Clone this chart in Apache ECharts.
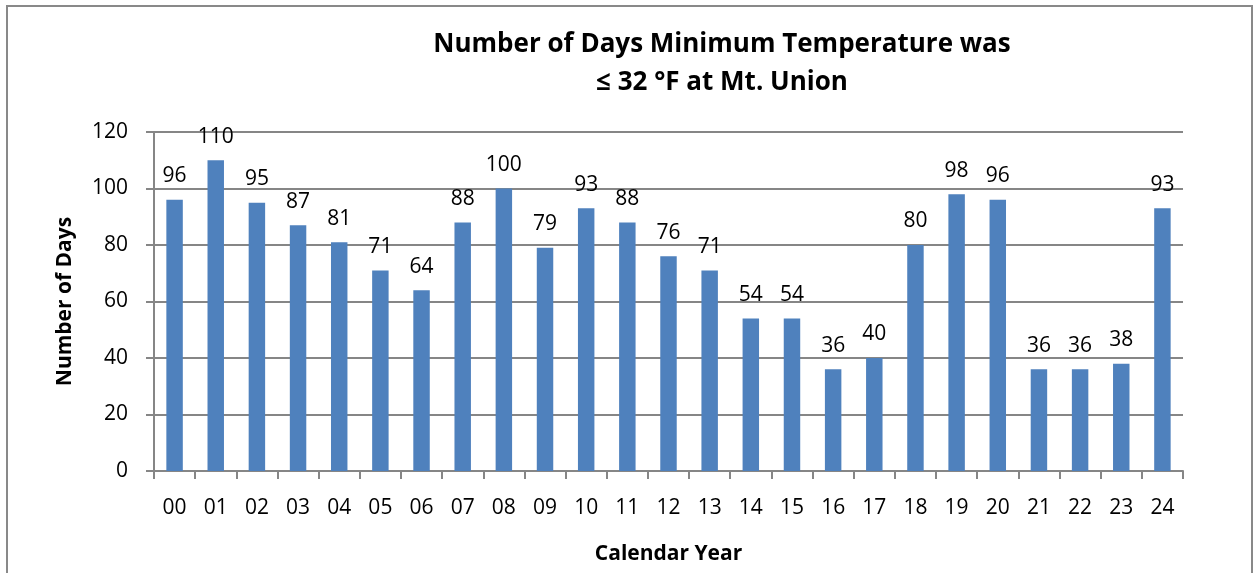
<!DOCTYPE html>
<html><head><meta charset="utf-8">
<script src="https://cdn.jsdelivr.net/npm/echarts@6/dist/echarts.min.js"></script>
<style>html,body{margin:0;padding:0;background:#fff}#c{width:1257px;height:573px}</style>
</head><body><div id="c"></div>
<script>
const categories = ['00','01','02','03','04','05','06','07','08','09','10','11','12','13','14','15','16','17','18','19','20','21','22','23','24'];
const days = [96,110,95,87,81,71,64,88,100,79,93,88,76,71,54,54,36,40,80,98,96,36,36,38,93];
const yTicks = {min:0, max:120, interval:20};
const font = '"Open Sans", "Noto Sans", sans-serif';
const chart = echarts.init(document.getElementById('c'));
chart.setOption({
  animation:false,
  graphic:[{type:'rect',shape:{x:7,y:6,width:1245,height:580},style:{fill:'none',stroke:'#898989',lineWidth:2}}],
  title:{text:'Number of Days Minimum Temperature was\n≤ 32 °F at Mt. Union',left:717,top:21,textAlign:'center',
    textStyle:{fontFamily:font,fontSize:26,fontWeight:'bold',color:'#000',lineHeight:38}},
  grid:{left:154,right:74,top:132,bottom:102,outerBoundsMode:'none',containLabel:false},
  xAxis:{type:'category',data:categories,
    name:'Calendar Year',nameLocation:'middle',nameGap:73,
    nameTextStyle:{fontFamily:font,fontSize:21,fontWeight:'bold',color:'#000'},
    axisLine:{lineStyle:{color:'#868686',width:2}},
    axisTick:{show:true,length:8,lineStyle:{color:'#868686',width:2}},
    axisLabel:{fontFamily:font,fontSize:21,color:'#000',margin:27}},
  yAxis:{type:'value',min:yTicks.min,max:yTicks.max,interval:yTicks.interval,
    name:'Number of Days',nameLocation:'middle',nameGap:78,
    nameTextStyle:{fontFamily:font,fontSize:21,fontWeight:'bold',color:'#000'},
    axisLine:{show:true,lineStyle:{color:'#868686',width:2}},
    axisTick:{show:true,length:8,lineStyle:{color:'#868686',width:2}},
    splitLine:{lineStyle:{color:'#868686',width:2}},
    axisLabel:{fontFamily:font,fontSize:21,color:'#000',margin:26}},
  series:[{type:'bar',data:days,barWidth:'40%',
    itemStyle:{color:'#4F81BD'},
    label:{show:true,position:'top',distance:13,fontFamily:font,fontSize:21,color:'#000'}}]
});
</script></body></html>
